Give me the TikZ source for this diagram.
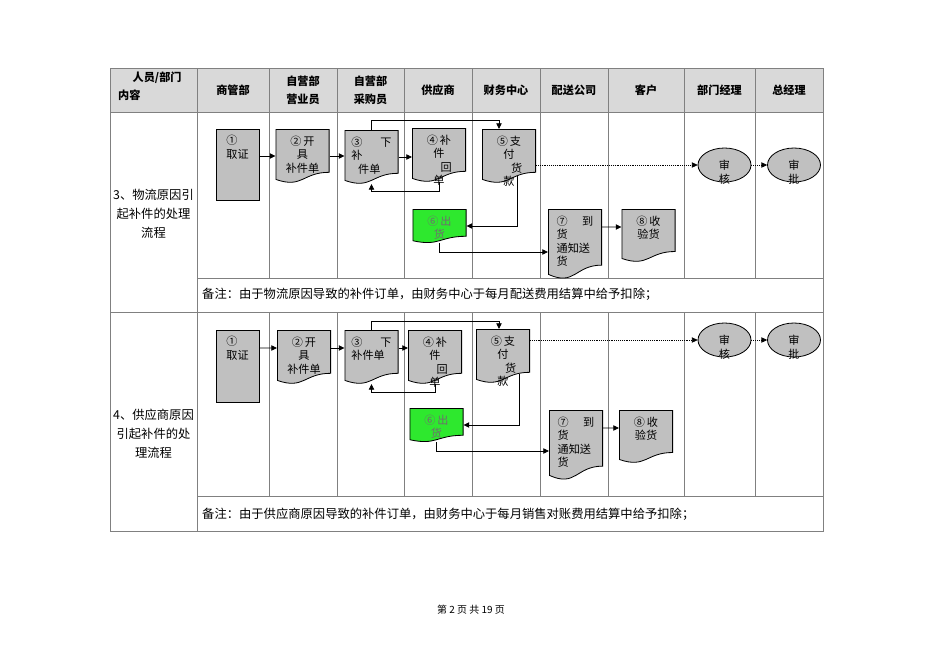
\documentclass[tikz,border=0pt]{standalone}
\usepackage{fontspec}
\setmainfont{Noto Sans CJK SC}
\usetikzlibrary{arrows.meta,shapes.geometric,calc}
\definecolor{fcSilver}{HTML}{C0C0C0}
\definecolor{fcHead}{HTML}{D9D9D9}
\definecolor{fcRule}{HTML}{808080}
\definecolor{fcGreen}{HTML}{2EE82E}
\definecolor{fcGreyText}{HTML}{6E6E6E}
\tikzset{
  lane rule/.style={draw=fcRule,line width=0.8pt},
  head cell/.style={font=\fontsize{9.5}{15}\selectfont\bfseries,align=center,inner sep=0pt},
  side cell/.style={font=\fontsize{10.5}{16}\selectfont,align=center,inner sep=0pt},
  note cell/.style={font=\fontsize{10.5}{13}\selectfont,anchor=west,inner sep=0pt},
  flow text/.style={anchor=north,align=center,inner sep=0pt,yshift=-0.2cm,
    font=\fontsize{9.5}{11.5}\selectfont},
  oval text/.style={flow text,yshift=-0.17cm},
  flow rect/.style={draw=black,line width=0.7pt,fill=fcSilver,minimum width=1.29cm,inner sep=0pt},
  flow doc/.style={minimum width=1.62cm,inner sep=0pt,outer sep=0pt,
    path picture={
      \path[fill=#1,draw=black,line width=0.7pt]
        let \p1=(path picture bounding box.north west),
            \p2=(path picture bounding box.south east) in
        (\x1+0.35pt,\y1-0.35pt) -- (\x2-0.35pt,\y1-0.35pt)
        -- (\x2-0.35pt,{\y1+0.802*(\y2-\y1)})
        .. controls ({0.5*(\x1+\x2)},{\y1+0.802*(\y2-\y1)})
        and ({0.5*(\x1+\x2)},{\y1+1.107*(\y2-\y1)}) ..
        (\x1+0.35pt,{\y1+0.934*(\y2-\y1)}) -- cycle;
    }},
  flow doc/.default=fcSilver,
  flow oval/.style={ellipse,draw=black,line width=0.7pt,fill=fcSilver,
    minimum width=1.59cm,minimum height=1.02cm,inner sep=0pt},
  flow arrow/.style={-{Triangle[length=1.7mm,width=1.6mm]},line width=0.6pt},
  flow dots/.style={flow arrow,densely dotted}
}
\begin{document}
\begin{tikzpicture}[x=0.03cm,y=-0.03cm]
\useasboundingbox (0,0) rectangle (950,672);
\fill[fcHead] (110,68) rectangle (823,112);
\draw[lane rule] (110,68) rectangle (823,531);
\draw[lane rule] (110,112) -- (823,112) (110,312) -- (823,312)
  (197,278) -- (823,278) (197,496) -- (823,496) (197,68) -- (197,531);
\foreach \x in {269,337,404,472,540,608,684,755}
  \draw[lane rule] (\x,68) -- (\x,278) (\x,312) -- (\x,496);

\node[head cell,anchor=north west,align=left] (corner) at (118,72) {\hspace*{1.3em}人员/部门\\内容};
\foreach \x/\t [count=\i] in {233/商管部,303/{自营部\\营业员},370.5/{自营部\\采购员},438/供应商,
    506/财务中心,574/配送公司,646/客户,719.5/部门经理,789/总经理}
  \node[head cell] (head\i) at (\x,90) {\t};

\node[side cell] (row3) at (153.5,214) {3、物流原因引\\起补件的处理\\流程};
\node[side cell] (row4) at (153.5,434) {4、供应商原因\\引起补件的处\\理流程};
\node[note cell] (note3) at (202,294) {备注：由于物流原因导致的补件订单，由财务中心于每月配送费用结算中给予扣除；};
\node[note cell] (note4) at (202,514) {备注：由于供应商原因导致的补件订单，由财务中心于每月销售对账费用结算中给予扣除；};

\node[flow rect,minimum height=2.13cm,label={[flow text,align=left]north:①\\取证}] (proof3) at (237.5,164.5) {};
\node[flow doc,minimum height=1.62cm,label={[flow text]north:②\,开\\具\\补件单}] (order3) at (302.5,156) {};
\node[flow doc,minimum height=1.62cm,label={[flow text,align=left]north:③\hspace{1.6em}下\\补\\\hspace*{0.6em}件单}] (issue3) at (371.5,157) {};
\node[flow doc,minimum height=1.62cm,label={[flow text]north:④\,补\\件\\\hspace*{1.3em}回\\单}] (receipt3) at (439,155) {};
\node[flow doc,minimum height=1.62cm,label={[flow text]north:⑤\,支\\付\\\hspace*{1.4em}货\\款}] (pay3) at (509,156) {};
\node[flow doc=fcGreen,minimum height=1.02cm,label={[flow text,text=fcGreyText]north:⑥\,出\\货}] (ship3) at (439.5,226) {};
\node[flow doc,minimum height=2.1cm,label={[flow text,align=left]north:⑦\hspace{1.3em}到\\货\\通知送\\货}] (notice3) at (575,244) {};
\node[flow doc,minimum height=1.59cm,label={[flow text]north:⑧\,收\\验货}] (check3) at (648.5,235.5) {};
\node[flow oval,label={[oval text]north:审\\核}] (audit3) at (724.5,165) {};
\node[flow oval,label={[oval text]north:审\\批}] (approve3) at (794,165) {};

\draw[flow arrow] (proof3.east |- order3.west) -- (order3.west);
\draw[flow arrow] (order3.east) -- (issue3.west |- order3.east);
\draw[flow arrow] (issue3.east) -- (receipt3.west |- issue3.east);
\draw[flow arrow] (issue3.north) -- ++(0,-10) -| ([xshift=-0.3cm]pay3.north);
\draw[flow arrow] (receipt3.south) -- ++(0,9) -| (issue3.south);
\draw[flow arrow] ([xshift=0.24cm,yshift=0.2cm]pay3.south) |- (ship3.east);
\draw[flow arrow] (ship3.south) |- ([yshift=-0.24cm]notice3.west);
\draw[flow arrow] ([yshift=0.51cm]notice3.east) -- ([yshift=0.255cm]check3.west);
\draw[flow dots] (pay3.east |- audit3.west) -- (audit3.west);
\draw[flow dots] (audit3) -- (approve3);

\node[flow rect,minimum height=2.16cm,label={[flow text,align=left]north:①\\取证}] (proof4) at (237.5,366) {};
\node[flow doc,minimum height=1.62cm,label={[flow text]north:②\,开\\具\\补件单}] (order4) at (304,357) {};
\node[flow doc,minimum height=1.62cm,label={[flow text,align=left]north:③\hspace{1.6em}下\\补件单}] (issue4) at (371.5,357) {};
\node[flow doc,minimum height=1.62cm,label={[flow text]north:④\,补\\件\\\hspace*{1.3em}回\\单}] (receipt4) at (435,357) {};
\node[flow doc,minimum height=1.62cm,label={[flow text]north:⑤\,支\\付\\\hspace*{1.4em}货\\款}] (pay4) at (503,356) {};
\node[flow doc=fcGreen,minimum height=1.02cm,label={[flow text,text=fcGreyText]north:⑥\,出\\货}] (ship4) at (436.5,425) {};
\node[flow doc,minimum height=2.1cm,label={[flow text,align=left]north:⑦\hspace{1.3em}到\\货\\通知送\\货}] (notice4) at (576,445) {};
\node[flow doc,minimum height=1.59cm,label={[flow text]north:⑧\,收\\验货}] (check4) at (646,436.5) {};
\node[flow oval,label={[oval text]north:审\\核}] (audit4) at (724.5,340) {};
\node[flow oval,label={[oval text]north:审\\批}] (approve4) at (794,340) {};

\draw[flow arrow] ([yshift=0.54cm]proof4.east) -- ([yshift=0.27cm]order4.west);
\draw[flow arrow] ([yshift=0.27cm]order4.east) -- ([yshift=0.27cm]issue4.west);
\draw[flow arrow] ([yshift=0.27cm]issue4.east) -- ([yshift=0.27cm]receipt4.west);
\draw[flow arrow] (issue4.north) -- ++(0,-9) -| ([xshift=-0.12cm]pay4.north);
\draw[flow arrow] (receipt4.south) -- ++(0,8) -| (issue4.south);
\draw[flow arrow] ([xshift=0.48cm,yshift=0.27cm]pay4.south) |- (ship4.east);
\draw[flow arrow] (ship4.south) |- ([yshift=-0.18cm]notice4.west);
\draw[flow arrow] ([yshift=0.51cm]notice4.east) -- ([yshift=0.255cm]check4.west);
\draw[flow dots] (pay4.east |- audit4.west) -- (audit4.west);
\draw[flow dots] (audit4) -- (approve4);

\node[font=\fontsize{8.5}{10}\selectfont] (pageno) at (471,610) {第 2 页 共 19 页};
\end{tikzpicture}
\end{document}
